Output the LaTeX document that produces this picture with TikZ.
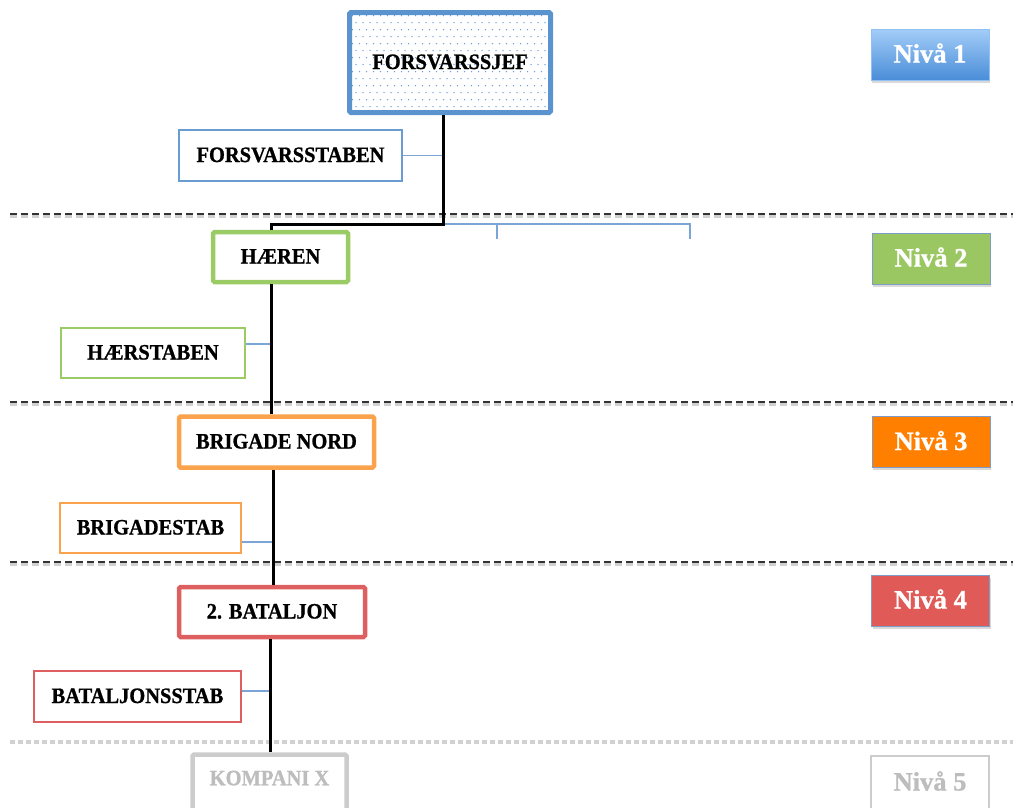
\documentclass[tikz,border=0pt]{standalone}
\usepackage{fontspec}
\setmainfont{Liberation Serif}
\newfontfamily\unitfont{Liberation Serif}[FakeStretch=0.93, FakeBold=0.9]
\newfontfamily\nivafont{Liberation Serif}[FakeBold=0.9]
\usetikzlibrary{shadows}
\definecolor{cblue}{HTML}{5B93CF}
\definecolor{cbluethin}{HTML}{6A9CD4}
\definecolor{cgreen}{HTML}{9BCB64}
\definecolor{corange}{HTML}{FAA24C}
\definecolor{cred}{HTML}{DE5F5F}
\definecolor{cgray}{HTML}{CCCCCC}
\definecolor{cgraytext}{HTML}{BDBDBD}
\definecolor{dotblue}{HTML}{6E9FDB}
\definecolor{linkblue}{HTML}{7AA5D6}
\definecolor{nivaAtop}{HTML}{A3CDF8}
\definecolor{nivaAbot}{HTML}{4A8DD8}
\definecolor{nivaB}{HTML}{9BC763}
\definecolor{nivaC}{HTML}{FF7F00}
\definecolor{nivaD}{HTML}{E05B58}
\definecolor{nivaborder}{HTML}{7E9CC8}
\begin{document}
\begin{tikzpicture}[x=1pt,y=-1pt,
  box/.style={draw, fill=white, inner sep=0pt, text height=14.5pt, text depth=1.5pt,
    font=\unitfont\fontsize{22}{24}\selectfont\bfseries},
  thickbox/.style={box, line width=4.5pt, rounded corners=1.5pt},
  thinbox/.style={box, line width=2pt},
  niva/.style={inner sep=0pt, minimum width=118pt, minimum height=51pt, text=white,
    text height=17pt, text depth=1pt, font=\nivafont\fontsize{26.5}{28}\selectfont\bfseries,
    draw=nivaborder, line width=0.8pt,
    drop shadow={shadow xshift=1pt, shadow yshift=-2.5pt, opacity=0.3}},
  trunk/.style={line width=3pt, black},
  link/.style={line width=1.6pt, linkblue},
  sep/.style={line width=2pt, dash pattern=on 7pt off 4pt, black!80},
  sepshadow/.style={line width=2.5pt, dash pattern=on 7pt off 4pt, black!18},
  seplight/.style={line width=4pt, dash pattern=on 5pt off 3pt, black!18},
]
\useasboundingbox (0,0) rectangle (1013,807);

% level separators
\draw[sepshadow] (10,216.5) -- (1013,216.5);
\draw[sep] (10,214) -- (1013,214);
\draw[sepshadow] (10,404.5) -- (1013,404.5);
\draw[sep] (10,402) -- (1013,402);
\draw[sepshadow] (10,564.5) -- (1013,564.5);
\draw[sep] (10,562) -- (1013,562);
\draw[seplight] (10,742) -- (1013,742);

% units
\node[thickbox, draw=cblue, line width=5pt, minimum width=201pt, minimum height=100pt,
  path picture={\foreach \j in {0,...,14}{\foreach \i in {0,...,29}{
    \fill[dotblue] ([shift={({\i*7+3+mod(\j,2)*3.5},{\j*7+3})}]path picture bounding box.north west) circle (0.75pt);}}}]
  (fsj) at (450,62.5) {FORSVARSSJEF};
\node[thinbox, draw=cbluethin, minimum width=223pt, minimum height=51pt] (fstab) at (290.5,155.5) {FORSVARSSTABEN};
\node[thickbox, draw=cgreen, minimum width=135pt, minimum height=50pt] (haer) at (280.5,257) {HÆREN};
\node[thinbox, draw=cgreen, minimum width=184pt, minimum height=50pt] (hstab) at (153,353) {HÆRSTABEN};
\node[thickbox, draw=corange, minimum width=195pt, minimum height=51pt] (brig) at (276.5,442) {BRIGADE NORD};
\node[thinbox, draw=corange, minimum width=181pt, minimum height=50pt] (bstab) at (150.5,528) {BRIGADESTAB};
\node[thickbox, draw=cred, minimum width=186pt, minimum height=50pt] (bat) at (272,612) {2. BATALJON};
\node[thinbox, draw=cred, minimum width=207pt, minimum height=51pt] (btstab) at (137.5,696.5) {BATALJONSSTAB};
\node[thickbox, draw=cgray, text=cgraytext, minimum width=154pt, minimum height=64pt,
  text height=14.5pt, text depth=17pt] (komp) at (269.5,786.5) {KOMPANI X};

% level labels
\node[niva, top color=nivaAtop, bottom color=nivaAbot, draw=nivaAtop!80!nivaAbot] (n1) at (930,54.5) {Nivå 1};
\node[niva, fill=nivaB] (n2) at (931,258.5) {Nivå 2};
\node[niva, fill=nivaC] (n3) at (931,442) {Nivå 3};
\node[niva, fill=nivaD] (n4) at (930.5,600.5) {Nivå 4};
\node[niva, drop shadow={opacity=0}, fill=white, draw=cgray, line width=1.5pt, text=cgraytext,
  minimum height=64pt, text depth=12pt] (n5) at (930,788) {Nivå 5};

% connectors
\coordinate (j0) at (443,224);
\coordinate (j1) at (271,224);
\coordinate (t2) at (271,0);
\coordinate (t3) at (273,0);
\coordinate (t4) at (270.5,0);
\coordinate (b1) at (497,224);
\coordinate (b2) at (690,224);
\coordinate (b1e) at (497,239);
\coordinate (b2e) at (690,239);

\draw[link] (j0) -- (b2) -- (b2e);
\draw[link] (b1) -- (b1e);
\draw[link] (fstab.east) -- (fstab.east -| j0);
\draw[link] ([yshift=9pt]hstab.east) -- ([yshift=9pt]hstab.east -| t2);
\draw[link] ([yshift=-14pt]bstab.east) -- ([yshift=-14pt]bstab.east -| t3);
\draw[link] ([yshift=5.5pt]btstab.east) -- ([yshift=5.5pt]btstab.east -| t4);

\draw[trunk] (fsj.south -| j0) -- (j0) -- (j1) -- (haer.north -| j1);
\draw[trunk] (haer.south -| t2) -- (brig.north -| t2);
\draw[trunk] (brig.south -| t3) -- (bat.north -| t3);
\draw[trunk] (bat.south -| t4) -- (komp.north -| t4);
\end{tikzpicture}
\end{document}
